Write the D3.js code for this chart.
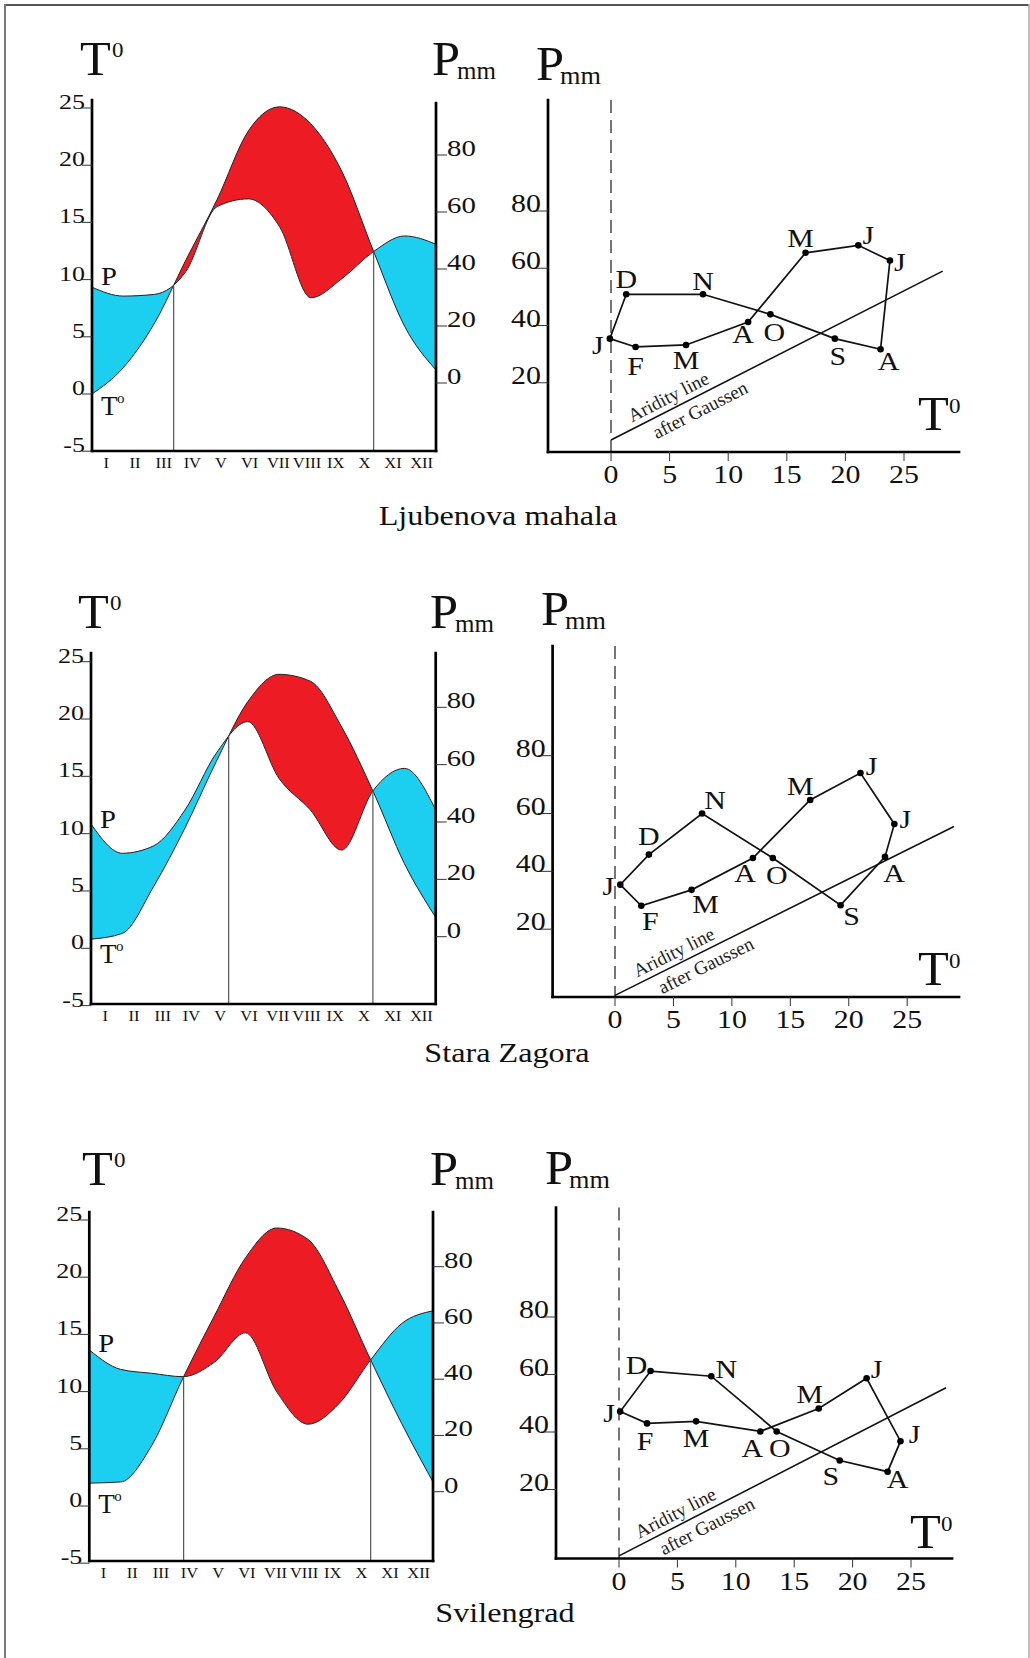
<!DOCTYPE html>
<html>
<head>
<meta charset="utf-8">
<script src="https://cdn.jsdelivr.net/npm/d3@7"></script>
<style>
html, body { margin: 0; padding: 0; background: #fff; }
svg { display: block; font-family: "Liberation Serif", "Times New Roman", Times, serif; }
</style>
</head>
<body>
<svg id="chart" width="1030" height="1658"></svg>
<script>
// ---------- data ----------
var months = ["I", "II", "III", "IV", "V", "VI", "VII", "VIII", "IX", "X", "XI", "XII"];
var monthLetters = ["J", "F", "M", "A", "M", "J", "J", "A", "S", "O", "N", "D"];
var stations = ["Ljubenova mahala", "Stara Zagora", "Svilengrad"];
var tempTicks = [-5, 0, 5, 10, 15, 20, 25];
var precTicks = [0, 20, 40, 60, 80];
var climTempTicks = [0, 5, 10, 15, 20, 25];
var climPrecTicks = [20, 40, 60, 80];

// ombrothermic curves (left charts): monthly T (deg C) and P (mm)
var ljTemp = [0.0, 2.3, 6.2, 11.7, 17.0, 23.0, 25.1, 23.6, 19.4, 12.5, 5.9, 2.1];
var ljPrec = [33.6, 30.5, 31.1, 39.1, 61.9, 64.6, 54.8, 29.9, 36.7, 46.1, 51.6, 48.7];
var szTemp = [0.8, 1.3, 5.4, 10.5, 16.3, 21.5, 23.9, 23.3, 19.3, 13.7, 7.4, 2.7];
var szPrec = [39.3, 29.1, 31.7, 44.2, 64.0, 75.0, 55.2, 44.2, 30.2, 50.9, 58.7, 44.2];
var svTemp = [2.0, 2.1, 5.3, 11.2, 16.6, 21.7, 24.3, 23.3, 18.7, 12.8, 7.2, 2.1];
var svPrec = [50.4, 43.5, 42.1, 40.9, 46.0, 56.5, 35.5, 24.0, 31.4, 46.8, 59.8, 64.3];

// climatograms (right charts): T and P per month
var ljClimT = [-0.1, 2.1, 6.4, 11.7, 16.6, 21.1, 23.8, 23.0, 19.1, 13.6, 7.85, 1.3];
var ljClimP = [35.4, 32.5, 33.2, 41.2, 65.4, 68.0, 62.7, 31.7, 35.4, 43.9, 50.9, 50.9];
var szClimT = [0.45, 2.25, 6.55, 11.8, 16.7, 21.0, 23.9, 23.1, 19.3, 13.5, 7.45, 2.9];
var szClimP = [35.4, 28.1, 33.6, 44.6, 64.7, 74.0, 56.4, 45.0, 28.3, 44.6, 60.0, 45.8];
var svClimT = [0.1, 2.4, 6.6, 12.1, 17.1, 21.2, 24.1, 23.0, 18.9, 13.5, 7.9, 2.7];
var svClimP = [47.1, 43.0, 43.7, 40.2, 48.2, 58.7, 36.8, 26.2, 30.1, 40.2, 59.4, 61.2];

// aridity line after Gaussen, [T, P] end points
var ljArid = [[0, 0], [28.3, 59.0]];
var szArid = [[0, -2.9], [29.0, 55.5]];
var svArid = [[0, -3.1], [28.0, 55.4]];

// ---------- layout ----------
var RED = "#ed1c24", BLUE = "#1ccff0";
var FONT = '"Liberation Serif", "Times New Roman", Times, serif';

var leftLayout = [
    {id: 0, x0: 92, x1: 436, axisTop: 100, rAxisTop: 103, bottom: 451, t0y: 394, t25y: 108, p0y: 383, p80y: 155, titleY: 75, tX: 80, pX: 432, pLabDy: -2, tLabDy: 21},
    {id: 1, x0: 91, x1: 435.7, axisTop: 653, rAxisTop: 653, bottom: 1004, t0y: 948.3, t25y: 661.7, p0y: 936.7, p80y: 707.3, titleY: 628, tX: 78, pX: 430, pLabDy: 4, tLabDy: 24},
    {id: 2, x0: 89.3, x1: 433, axisTop: 1212, rAxisTop: 1212, bottom: 1561, t0y: 1506, t25y: 1220, p0y: 1491.7, p80y: 1266.7, titleY: 1185, tX: 82, pX: 430, pLabDy: 2, tLabDy: 30}
];
var rightLayout = [
    {ax: 548, axisTop: 100, axisY: 452, xEnd: 959, t0x: 611, t25x: 904, p0y: 440, p80y: 211, pmmX: 536, pmmY: 80, tX: 918, tY: 430, nameX: 498, nameY: 525},
    {ax: 552.6, axisTop: 646, axisY: 997, xEnd: 959, t0x: 615, t25x: 907.2, p0y: 987, p80y: 755.7, pmmX: 541, pmmY: 625, tX: 918, tY: 985, nameX: 507, nameY: 1062},
    {ax: 556, axisTop: 1207.5, axisY: 1558.5, xEnd: 952, t0x: 619, t25x: 911, p0y: 1547, p80y: 1317, pmmX: 545, pmmY: 1184, tX: 910, tY: 1548, nameX: 505, nameY: 1622}
];
// month-letter placement around each point (dx, dy of letter centre)
var labelOffsets = [
    [[-12, 6], [0, 19], [0, 15], [-5, 12], [-5, -15], [10, -10], [10, 1], [8, 12], [3, 17], [4, 18], [0, -13], [0, -15]],
    [[-12, 1], [9, 15], [14, 14], [-8, 15], [-10, -14], [11, -7], [11, -5], [9, 16], [11, 11], [4, 17], [13, -14], [0, -19]],
    [[-11, 1], [-2, 18], [0, 17], [-8, 17], [-9, -14], [10, -9], [14, -7], [10, 7], [-9, 16], [3, 17], [15, -7], [-14, -6]]
];

var svg = d3.select("#chart").attr("font-family", FONT);
svg.append("rect").attr("width", 1030).attr("height", 1658).attr("fill", "#fff");

// frame
svg.append("line").attr("x1", 4).attr("y1", 5).attr("x2", 1029).attr("y2", 5).attr("stroke", "#555").attr("stroke-width", 2);
svg.append("line").attr("x1", 5).attr("y1", 4).attr("x2", 5).attr("y2", 1658).attr("stroke", "#777").attr("stroke-width", 2);
svg.append("line").attr("x1", 1029).attr("y1", 4).attr("x2", 1029).attr("y2", 1658).attr("stroke", "#aaa").attr("stroke-width", 1.5);

// text helper; the scanned figure's lettering is a little stretched horizontally
function txt(g, s, x, y, size, anchor, sx) {
    return g.append("text")
        .attr("transform", "translate(" + x + "," + y + ") scale(" + (sx || 1.15) + ",1)")
        .attr("font-family", FONT).attr("font-size", size)
        .attr("text-anchor", anchor || "start").attr("fill", "#111").text(s);
}

function samplePath(node) {
    var L = node.getTotalLength(), pts = [];
    for (var s = 0; s <= L; s += 0.5) pts.push(node.getPointAtLength(s));
    pts.push(node.getPointAtLength(L));
    return pts;
}
var bis = d3.bisector(function (p) { return p.x; }).left;
function yAt(pts, xv) {
    var i = bis(pts, xv);
    if (i <= 0) return pts[0].y;
    if (i >= pts.length) return pts[pts.length - 1].y;
    var a = pts[i - 1], b = pts[i];
    var f = (xv - a.x) / ((b.x - a.x) || 1);
    return a.y + f * (b.y - a.y);
}

// ---------- left: ombrothermic diagram ----------
function drawOmbro(L, temp, prec) {
    var g = svg.append("g");
    var x = d3.scalePoint().domain(months).range([L.x0, L.x1]);
    var band = d3.scaleBand().domain(months).range([L.x0, L.x1]);
    var yT = d3.scaleLinear().domain([0, 25]).range([L.t0y, L.t25y]);
    var yP = d3.scaleLinear().domain([0, 80]).range([L.p0y, L.p80y]);
    var rows = months.map(function (m, k) { return {m: m, t: temp[k], p: prec[k]}; });
    var curve = d3.curveMonotoneX;
    var id = "clip" + L.id;

    var defs = g.append("defs");
    defs.append("clipPath").attr("id", id + "a").append("path")
        .attr("d", d3.area().x(function (d) { return x(d.m); }).y0(L.axisTop - 40)
            .y1(function (d) { return yP(d.p); }).curve(curve)(rows));
    defs.append("clipPath").attr("id", id + "b").append("path")
        .attr("d", d3.area().x(function (d) { return x(d.m); }).y0(L.bottom + 40)
            .y1(function (d) { return yP(d.p); }).curve(curve)(rows));

    var between = d3.area().x(function (d) { return x(d.m); })
        .y0(function (d) { return yP(d.p); }).y1(function (d) { return yT(d.t); }).curve(curve);
    // arid period: temperature above precipitation
    g.append("path").attr("d", between(rows)).attr("fill", RED).attr("clip-path", "url(#" + id + "a)");
    // humid period
    g.append("path").attr("d", between(rows)).attr("fill", BLUE).attr("clip-path", "url(#" + id + "b)");

    var tLine = g.append("path").attr("fill", "none").attr("stroke", "#222").attr("stroke-width", 1)
        .attr("d", d3.line().x(function (d) { return x(d.m); }).y(function (d) { return yT(d.t); }).curve(curve)(rows));
    var pLine = g.append("path").attr("fill", "none").attr("stroke", "#222").attr("stroke-width", 1)
        .attr("d", d3.line().x(function (d) { return x(d.m); }).y(function (d) { return yP(d.p); }).curve(curve)(rows));

    // vertical lines where the curves cross
    var tp = samplePath(tLine.node()), pp = samplePath(pLine.node());
    var prev = null, prevX = null, prevD = null;
    for (var xv = L.x0 + 1; xv <= L.x1 - 1; xv += 0.5) {
        var d = yAt(tp, xv) - yAt(pp, xv);
        var s = d > 0 ? 1 : -1;
        if (prev !== null && s !== prev) {
            var cx = prevX + (xv - prevX) * (prevD / (prevD - d || 1));
            g.append("line").attr("x1", cx).attr("x2", cx).attr("y1", yAt(pp, cx)).attr("y2", L.bottom)
                .attr("stroke", "#555").attr("stroke-width", 1.2);
        }
        prev = s; prevX = xv; prevD = d;
    }

    // axes
    var ax = g.append("g").attr("stroke", "#000").attr("stroke-width", 2.7).attr("stroke-linecap", "square");
    ax.append("line").attr("x1", L.x0).attr("y1", L.axisTop).attr("x2", L.x0).attr("y2", L.bottom);
    ax.append("line").attr("x1", L.x1).attr("y1", L.rAxisTop).attr("x2", L.x1).attr("y2", L.bottom);
    ax.append("line").attr("x1", L.x0).attr("y1", L.bottom).attr("x2", L.x1).attr("y2", L.bottom);

    tempTicks.forEach(function (v) {
        var yy = yT(v);
        g.append("line").attr("x1", L.x0 - 10).attr("x2", L.x0).attr("y1", yy).attr("y2", yy)
            .attr("stroke", "#333").attr("stroke-width", 1);
        txt(g, v, L.x0 - 7, yy + 1, 20, "end", 1.3);
    });
    precTicks.forEach(function (v) {
        var yy = yP(v);
        g.append("line").attr("x1", L.x1).attr("x2", L.x1 + 11).attr("y1", yy).attr("y2", yy)
            .attr("stroke", "#333").attr("stroke-width", 1);
        txt(g, v, L.x1 + 11, yy + 1, 24, "start", 1.2);
    });
    months.forEach(function (m) {
        txt(g, m, band(m) + band.bandwidth() / 2, L.bottom + 17, 15, "middle", 1.1);
    });

    // titles
    txt(g, "T", L.tX, L.titleY, 48, "start", 1.05);
    txt(g, "0", L.tX + 32, L.titleY - 18, 20);
    txt(g, "P", L.pX, L.titleY, 48, "start", 1.05);
    txt(g, "mm", L.pX + 25, L.titleY + 4, 25, "start", 1.0);

    // curve names
    txt(g, "P", L.x0 + 9, yP(prec[0]) + L.pLabDy, 26, "start", 1.1);
    var ty = yT(temp[0]) + L.tLabDy;
    txt(g, "T", L.x0 + 9, ty, 27, "start", 1.0);
    txt(g, "o", L.x0 + 25, ty - 12, 15, "start", 1.0);
}

// ---------- right: climatogram ----------
function drawClimo(R, ct, cp, arid, offs, name) {
    var g = svg.append("g");
    var x = d3.scaleLinear().domain([0, 25]).range([R.t0x, R.t25x]);
    var y = d3.scaleLinear().domain([0, 80]).range([R.p0y, R.p80y]);

    // T = 0 dashed line
    g.append("line").attr("x1", x(0)).attr("x2", x(0)).attr("y1", R.axisTop).attr("y2", R.axisY)
        .attr("stroke", "#555").attr("stroke-width", 1.6).attr("stroke-dasharray", "13,7");

    var ax = g.append("g").attr("stroke", "#000").attr("stroke-width", 2.7).attr("stroke-linecap", "square");
    ax.append("line").attr("x1", R.ax).attr("y1", R.axisTop).attr("x2", R.ax).attr("y2", R.axisY);
    ax.append("line").attr("x1", R.ax).attr("y1", R.axisY).attr("x2", R.xEnd).attr("y2", R.axisY);

    climTempTicks.forEach(function (v) {
        g.append("line").attr("x1", x(v)).attr("x2", x(v)).attr("y1", R.axisY).attr("y2", R.axisY + 9)
            .attr("stroke", "#333").attr("stroke-width", 1);
        txt(g, v, x(v), R.axisY + 31, 26, "middle");
    });
    climPrecTicks.forEach(function (v) {
        g.append("line").attr("x1", R.ax - 15).attr("x2", R.ax).attr("y1", y(v)).attr("y2", y(v))
            .attr("stroke", "#333").attr("stroke-width", 1);
        txt(g, v, R.ax - 7, y(v) + 1, 26, "end");
    });

    // aridity line after Gaussen
    var a0 = [x(arid[0][0]), y(arid[0][1])], a1 = [x(arid[1][0]), y(arid[1][1])];
    g.append("line").attr("x1", a0[0]).attr("y1", a0[1]).attr("x2", a1[0]).attr("y2", a1[1])
        .attr("stroke", "#111").attr("stroke-width", 1.6);
    var ang = Math.atan2(a1[1] - a0[1], a1[0] - a0[0]) * 180 / Math.PI;
    function along(f) { return [a0[0] + (a1[0] - a0[0]) * f, a0[1] + (a1[1] - a0[1]) * f]; }
    var q1 = along(0.19), q2 = along(0.25);
    g.append("text").attr("transform", "translate(" + q1[0] + "," + q1[1] + ") rotate(" + ang + ")")
        .attr("y", -6).attr("text-anchor", "middle").attr("font-family", FONT).attr("font-size", 19)
        .attr("fill", "#222").text("Aridity line");
    g.append("text").attr("transform", "translate(" + q2[0] + "," + q2[1] + ") rotate(" + ang + ")")
        .attr("y", 20).attr("text-anchor", "middle").attr("font-family", FONT).attr("font-size", 19)
        .attr("fill", "#222").text("after Gaussen");

    // yearly loop
    var pts = ct.map(function (t, k) { return [x(t), y(cp[k])]; });
    g.append("path").attr("d", d3.line().curve(d3.curveLinearClosed)(pts))
        .attr("fill", "none").attr("stroke", "#111").attr("stroke-width", 1.7);
    g.selectAll("circle.pt").data(pts).join("circle").attr("class", "pt")
        .attr("cx", function (d) { return d[0]; }).attr("cy", function (d) { return d[1]; })
        .attr("r", 3.3).attr("fill", "#000");
    pts.forEach(function (p, k) {
        txt(g, monthLetters[k], p[0] + offs[k][0], p[1] + offs[k][1] + 9, 26, "middle");
    });

    // titles
    txt(g, "P", R.pmmX, R.pmmY, 48, "start", 1.05);
    txt(g, "mm", R.pmmX + 24, R.pmmY + 4, 25, "start", 1.05);
    txt(g, "T", R.tX, R.tY, 48, "start", 1.05);
    txt(g, "0", R.tX + 31, R.tY - 17, 20);

    txt(g, name, R.nameX, R.nameY, 28, "middle");
}

var temps = [ljTemp, szTemp, svTemp], precs = [ljPrec, szPrec, svPrec];
var climTs = [ljClimT, szClimT, svClimT], climPs = [ljClimP, szClimP, svClimP];
var arids = [ljArid, szArid, svArid];
for (var i = 0; i < 3; i++) {
    drawOmbro(leftLayout[i], temps[i], precs[i]);
    drawClimo(rightLayout[i], climTs[i], climPs[i], arids[i], labelOffsets[i], stations[i]);
}
</script>
</body>
</html>
